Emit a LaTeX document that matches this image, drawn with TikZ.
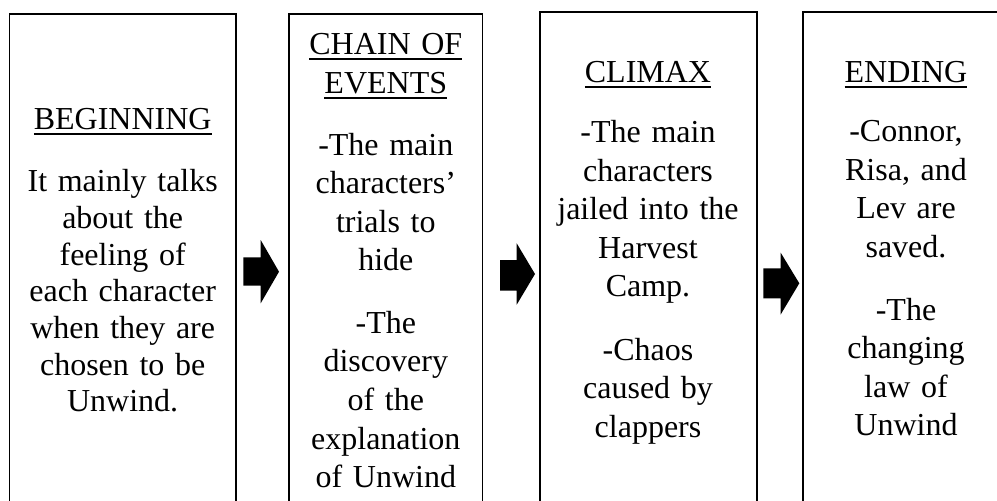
\documentclass[tikz,border=0pt]{standalone}
\usepackage{fontspec}
\setmainfont{Liberation Serif}
\newcommand\myul[1]{\leavevmode\setbox0\hbox{#1}\rlap{\rule[-5.4pt]{\wd0}{1.9pt}}\box0}
\tikzset{
  box/.style={draw=black, line width=1.8pt, rectangle, outer sep=0pt, inner sep=0pt, anchor=north west, minimum height=560pt},
  txt/.style={align=center, text width=200pt, inner sep=0pt, anchor=base, font=\fontsize{32}{38.6}\selectfont},
  txtA/.style={txt, font=\fontsize{32}{36.67}\selectfont},
  blockarrow/.style={fill=black}
}
\begin{document}
\begin{tikzpicture}[x=1pt,y=-1pt]
\useasboundingbox (0,0) rectangle (997,501);
\clip (0,0) rectangle (997,501);
\fill[white] (0,0) rectangle (997,501);
% boxes
\node[box, minimum width=226.5pt] (b1) at (9.5,14) {};
\node[box, minimum width=193.5pt] (b2) at (289,14) {};
\node[box, minimum width=217pt] (b3) at (539.7,12.3) {};
\node[box, minimum width=210pt] (b4) at (803.3,12.3) {};
% box 1
\node[txtA] (t1) at (122.7,129.5) {\myul{BEGINNING}};
\node[txtA] (p1) at (122.7,191.7) {It mainly talks\\about the\\feeling of\\each character\\when they are\\chosen to be\\Unwind.};
% box 2
\node[txt] (t2) at (385.8,54.5) {\myul{CHAIN OF}\\\myul{EVENTS}};
\node[txt] (p2a) at (385.8,155) {-The main\\characters’\\trials to\\hide};
\node[txt] (p2b) at (385.8,333.3) {-The\\discovery\\of the\\explanation\\of Unwind};
% box 3
\node[txt] (t3) at (648,82.5) {\myul{CLIMAX}};
\node[txt] (p3a) at (648,142.5) {-The main\\characters\\jailed into the\\Harvest\\Camp.};
\node[txt] (p3b) at (648,360) {-Chaos\\caused by\\clappers};
% box 4
\node[txt] (t4) at (906,82.5) {\myul{ENDING}};
\node[txt] (p4a) at (906,141.7) {-Connor,\\Risa, and\\Lev are\\saved.};
\node[txt] (p4b) at (906,320) {-The\\changing\\law of\\Unwind};
% arrows
\fill[blockarrow] (243.3,257.3) -- (260.7,257.3) -- (260.7,240) -- (279,271.7) -- (260.7,303.3) -- (260.7,285.7) -- (243.3,285.7) -- cycle;
\fill[blockarrow] (500,260.2) -- (516.7,260.2) -- (516.7,243.3) -- (535,274) -- (516.7,304.7) -- (516.7,290.5) -- (500,290.5) -- cycle;
\fill[blockarrow] (763.3,268.3) -- (780.7,268.3) -- (780.7,252.7) -- (799.3,283.3) -- (780.7,314.5) -- (780.7,298.3) -- (763.3,298.3) -- cycle;
\end{tikzpicture}
\end{document}
